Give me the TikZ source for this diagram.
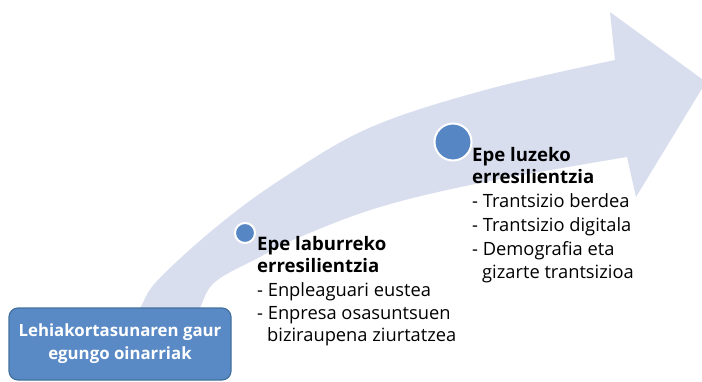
\documentclass[tikz,border=0pt]{standalone}
\usepackage{fontspec}
\setmainfont{Open Sans}
\definecolor{arrowfill}{HTML}{D9DEEF}
\definecolor{dotblue}{HTML}{5686C4}
\definecolor{boxblue}{HTML}{5A8AC6}
\definecolor{boxline}{HTML}{41719C}
\begin{document}
\begin{tikzpicture}[x=1pt,y=-1pt,
  txt/.style={anchor=base west,inner sep=0pt,font=\fontsize{18.3}{22}\selectfont,text=black},
  head/.style={txt,font=\fontsize{18.6}{22}\selectfont\bfseries},
  dot/.style={circle,fill=dotblue,draw=white,line width=2pt,inner sep=0pt},
  basebox/.style={draw=boxline,line width=1.2pt,fill=boxblue,rounded corners=9pt,
    minimum width=222pt,minimum height=72pt,inner sep=0pt,align=center,
    text=white,font=\fontsize{16.8}{23}\selectfont\bfseries}]
\useasboundingbox (0,0) rectangle (702,381);
\clip (0,0) rectangle (702,381);
% arrow
\fill[arrowfill] plot[smooth,tension=0.6] coordinates {(125,328) (140,308) (157,281) (215,228) (280,180) (369,128) (485,90) (615,60)}
  -- (610,12) -- (706,82) -- (636,197) -- (627,157)
  -- plot[smooth,tension=0.6] coordinates {(627,157) (485,182) (380,207) (300,237) (258,258) (215,282) (200,308) (190,332)}
  -- cycle;
% dots
\node[dot,minimum size=20pt] (d1) at (245,233) {};
\node[dot,minimum size=37pt] (d2) at (453,142) {};
% left block
\node[head] (a1) at (257,250) {Epe laburreko};
\node[head] (a2) at (257,272) {erresilientzia};
\node[txt] (a3) at (257,296) {- Enpleaguari eustea};
\node[txt] (a4) at (257,319) {- Enpresa osasuntsuen};
\node[txt] (a5) at (267,341) {biziraupena ziurtatzea};
% right block
\node[head] (b1) at (472,161) {Epe luzeko};
\node[head] (b2) at (472,183) {erresilientzia};
\node[txt] (b3) at (472,207) {- Trantsizio berdea};
\node[txt] (b4) at (472,231) {- Trantsizio digitala};
\node[txt] (b5) at (472,255) {- Demografia eta};
\node[txt] (b6) at (482,278) {gizarte trantsizioa};
% base box
\node[basebox] (base) at (120,344) {Lehiakortasunaren gaur\\egungo oinarriak};
\end{tikzpicture}
\end{document}
